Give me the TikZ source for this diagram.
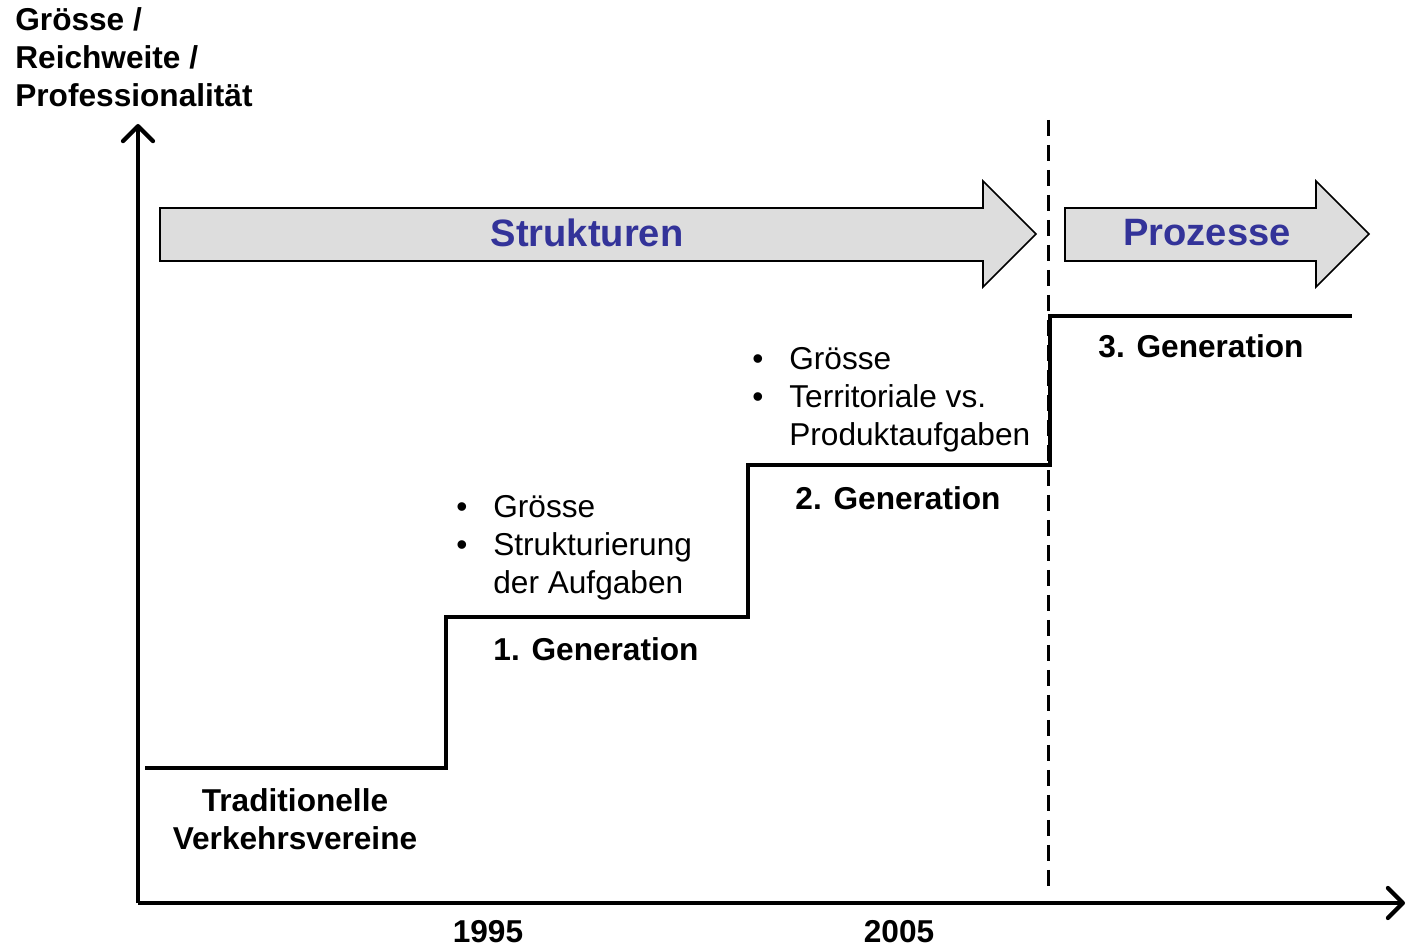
\documentclass[tikz,border=0pt]{standalone}
\usepackage{fontspec}
\setmainfont{Liberation Sans}
\usetikzlibrary{arrows.meta,calc,positioning}
\definecolor{phaseBlue}{RGB}{51,51,153}
\definecolor{phaseFill}{RGB}{221,221,221}
\newcommand{\blt}{\makebox[0.74cm][l]{\textbullet}}
\tikzset{
  axis/.style={line width=2.4pt, -{Straight Barb[length=0.3cm,width=0.6cm,line cap=round,line join=round]}},
  stair/.style={line width=1.8pt},
  cut/.style={line width=1.7pt, dash pattern=on 0.32cm off 0.18cm},
  phase/.style={draw=black, line width=0.9pt, fill=phaseFill},
  phasetext/.style={font=\fontsize{21.7}{26}\selectfont\bfseries, text=phaseBlue},
  gen/.style={font=\fontsize{18}{21.6}\selectfont\bfseries, align=center, inner sep=0pt},
  year/.style={font=\fontsize{18}{21.6}\selectfont\bfseries, inner sep=0pt},
  notes/.style={font=\fontsize{18}{21.6}\selectfont, align=left, anchor=west, inner sep=0pt}
}
\begin{document}
\begin{tikzpicture}[x=0.02cm,y=-0.02cm]
    \useasboundingbox (0,0) rectangle (1410,949);
    % axes
    \coordinate (origin) at (138,903);
    \coordinate (ytop) at (138,124);
    \coordinate (xend) at (1405,903);
    \draw[axis] (origin) -- (ytop);
    \draw[axis] (origin) -- (xend);
    \node[font=\fontsize{18}{21.6}\selectfont\bfseries, align=left, anchor=north west, inner sep=0pt] (ylab) at (15,7)
      {Grösse /\\Reichweite /\\Professionalität};
    \node[year] (y1995) at (488,932) {1995};
    \node[year] (y2005) at (899,932) {2005};
    % phases
    \draw[phase] (160,208) -- (983,208) -- (983,181) -- (1036,234) -- (983,287) -- (983,261) -- (160,261) -- cycle;
    \draw[phase] (1065,208) -- (1316,208) -- (1316,181) -- (1369,234) -- (1316,287) -- (1316,261) -- (1065,261) -- cycle;
    \node[phasetext] (struk) at (587,233) {Strukturen};
    \node[phasetext] (proz) at (1207,233) {Prozesse};
    \coordinate (cuttop) at (1048,120);
    \coordinate (cutbot) at (1048,890);
    \draw[cut] (cuttop) -- (cutbot);
    % stairs
    \coordinate (s0) at (145,768);
    \coordinate (s1) at (446,768);
    \coordinate (s2) at (446,617);
    \coordinate (s3) at (748,617);
    \coordinate (s4) at (748,465);
    \coordinate (s5) at (1050,465);
    \coordinate (s6) at (1050,316);
    \coordinate (s7) at (1352,316);
    \draw[stair] (s0) -- (s1) -- (s2) -- (s3) -- (s4) -- (s5) -- (s6) -- (s7);
    \node[gen] (g0) at (295,819) {Traditionelle\\Verkehrsvereine};
    \node[gen] (g1) at (596,649) {1. Generation};
    \node[gen] (g2) at (898,498) {2. Generation};
    \node[gen] (g3) at (1201,346) {3. Generation};
    \node[notes] (n1) at (456,548) {\blt Grösse\\\blt Strukturierung\\\hphantom{\blt}der Aufgaben};
    \node[notes] (n2) at (752,400) {\blt Grösse\\\blt Territoriale vs.\\\hphantom{\blt}Produktaufgaben};
\end{tikzpicture}
\end{document}
